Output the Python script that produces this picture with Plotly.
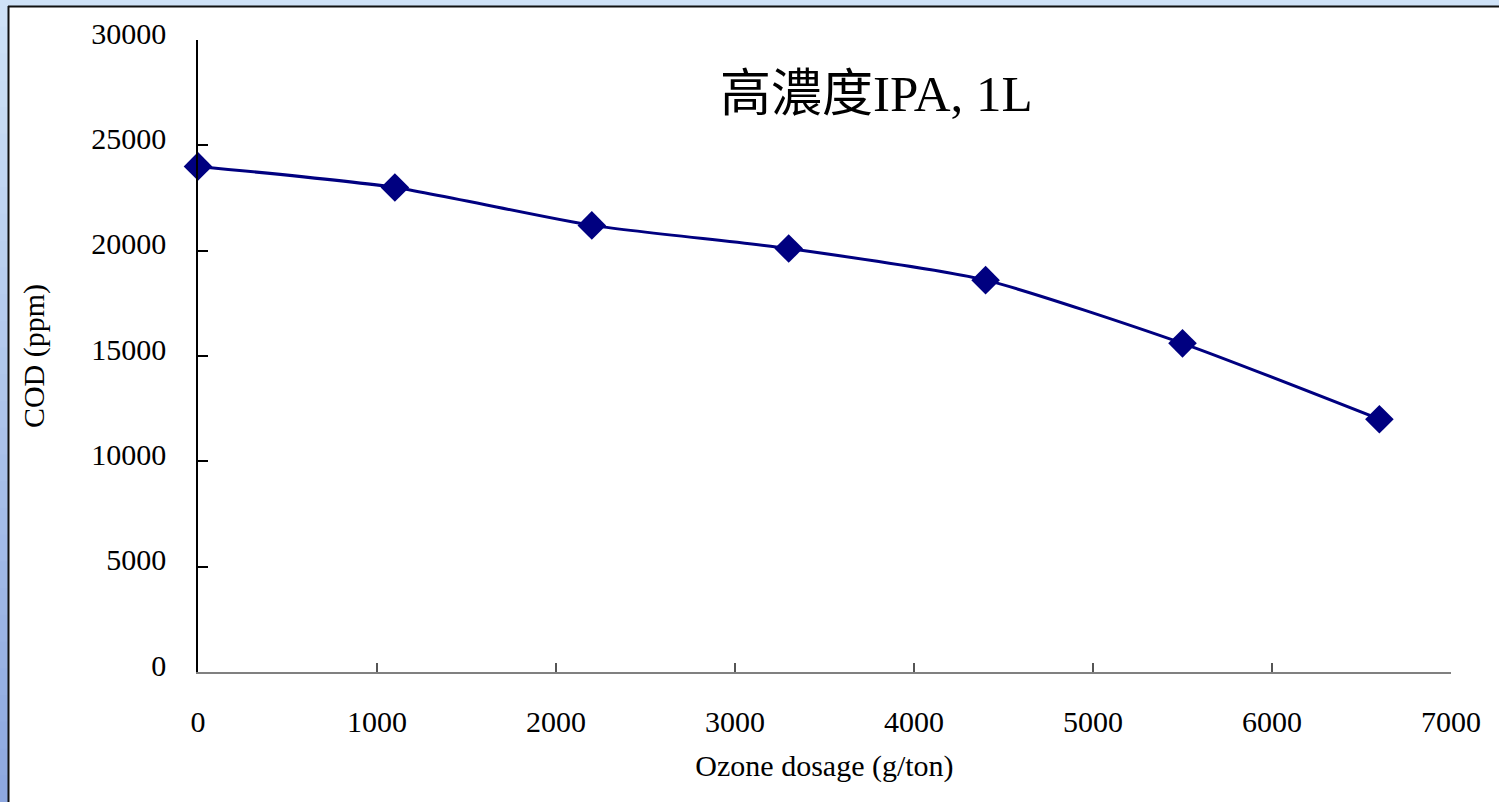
import plotly.graph_objects as go

# Ozone dosage (g/ton) and measured COD (ppm)
dosage = [0, 1100, 2200, 3300, 4400, 5500, 6600]
cod = [24000, 23000, 21200, 20100, 18600, 15600, 12000]

x_ticks = [0, 1000, 2000, 3000, 4000, 5000, 6000, 7000]
y_ticks = [0, 5000, 10000, 15000, 20000, 25000, 30000]

W, H = 1499, 802
L, R, T, B = 198, 48, 40, 130
pw, ph = W - L - R, H - T - B

def px_x(p):
    return (p - L) / pw

def px_y(p):
    return (H - B - p) / ph

SERIF = "Liberation Serif, Times New Roman, Noto Sans CJK TC, serif"
NAVY = "#000080"

fig = go.Figure()
fig.add_trace(go.Scatter(
    x=dosage, y=cod, mode="lines+markers",
    line=dict(color=NAVY, width=3, shape="spline", smoothing=0.6),
    marker=dict(symbol="diamond", size=22, color=NAVY),
    cliponaxis=False, showlegend=False,
))

# slide frame: blue strip on the left (gradient bands), blue band on top
shapes = []
top_c = (207, 226, 247)
bot_c = (142, 168, 224)
n = 30
for i in range(n):
    f = i / (n - 1)
    c = tuple(int(top_c[k] + (bot_c[k] - top_c[k]) * f) for k in range(3))
    y0 = i * H / n
    y1 = (i + 1) * H / n + 1
    shapes.append(dict(type="rect", xref="paper", yref="paper",
                       x0=px_x(0), x1=px_x(9), y0=px_y(y1), y1=px_y(y0),
                       fillcolor="rgb(%d,%d,%d)" % c, line=dict(width=0), layer="below"))
shapes.append(dict(type="rect", xref="paper", yref="paper",
                   x0=px_x(0), x1=px_x(W), y0=px_y(7), y1=px_y(0),
                   fillcolor="rgb(207,226,247)", line=dict(width=0), layer="below"))
shapes.append(dict(type="line", xref="paper", yref="paper",
                   x0=px_x(8), x1=px_x(W), y0=px_y(6.5), y1=px_y(6.5),
                   line=dict(color="#111111", width=2), layer="below"))
shapes.append(dict(type="line", xref="paper", yref="paper",
                   x0=px_x(8.5), x1=px_x(8.5), y0=px_y(H), y1=px_y(6),
                   line=dict(color="#111111", width=2), layer="below"))

fig.update_layout(
    width=W, height=H,
    margin=dict(l=L, r=R, t=T, b=B, autoexpand=False),
    paper_bgcolor="white", plot_bgcolor="white",
    font=dict(family=SERIF, size=30, color="black"),
    shapes=shapes,
    xaxis=dict(
        range=[0, 7000], tickvals=x_ticks, ticktext=[str(v) for v in x_ticks],
        showgrid=False, zeroline=False, showline=True, linecolor="#808080", linewidth=2,
        ticks="inside", ticklen=9, tickcolor="#555555", tickwidth=1.5,
        ticklabelstandoff=22,
        tickfont=dict(family=SERIF, size=30, color="black"),
        title=dict(text="Ozone dosage (g/ton)", standoff=18,
                   font=dict(family=SERIF, size=30, color="black")),
    ),
    yaxis=dict(
        range=[0, 30000], tickvals=y_ticks, ticktext=[str(v) for v in y_ticks],
        showgrid=False, zeroline=False, showline=True, linecolor="black", linewidth=1.5,
        ticks="inside", ticklen=10, tickcolor="black", tickwidth=1.5,
        ticklabelstandoff=24, ticklabelshift=-7,
        tickfont=dict(family=SERIF, size=30, color="black"),
        title=dict(text="COD (ppm)", standoff=38,
                   font=dict(family=SERIF, size=30, color="black")),
    ),
    annotations=[dict(
        text="高濃度IPA, 1L", xref="paper", yref="paper",
        x=px_x(876), y=px_y(94), xanchor="center", yanchor="middle",
        showarrow=False, font=dict(family=SERIF, size=51, color="black"),
    )],
)

fig.write_html("out.html")
